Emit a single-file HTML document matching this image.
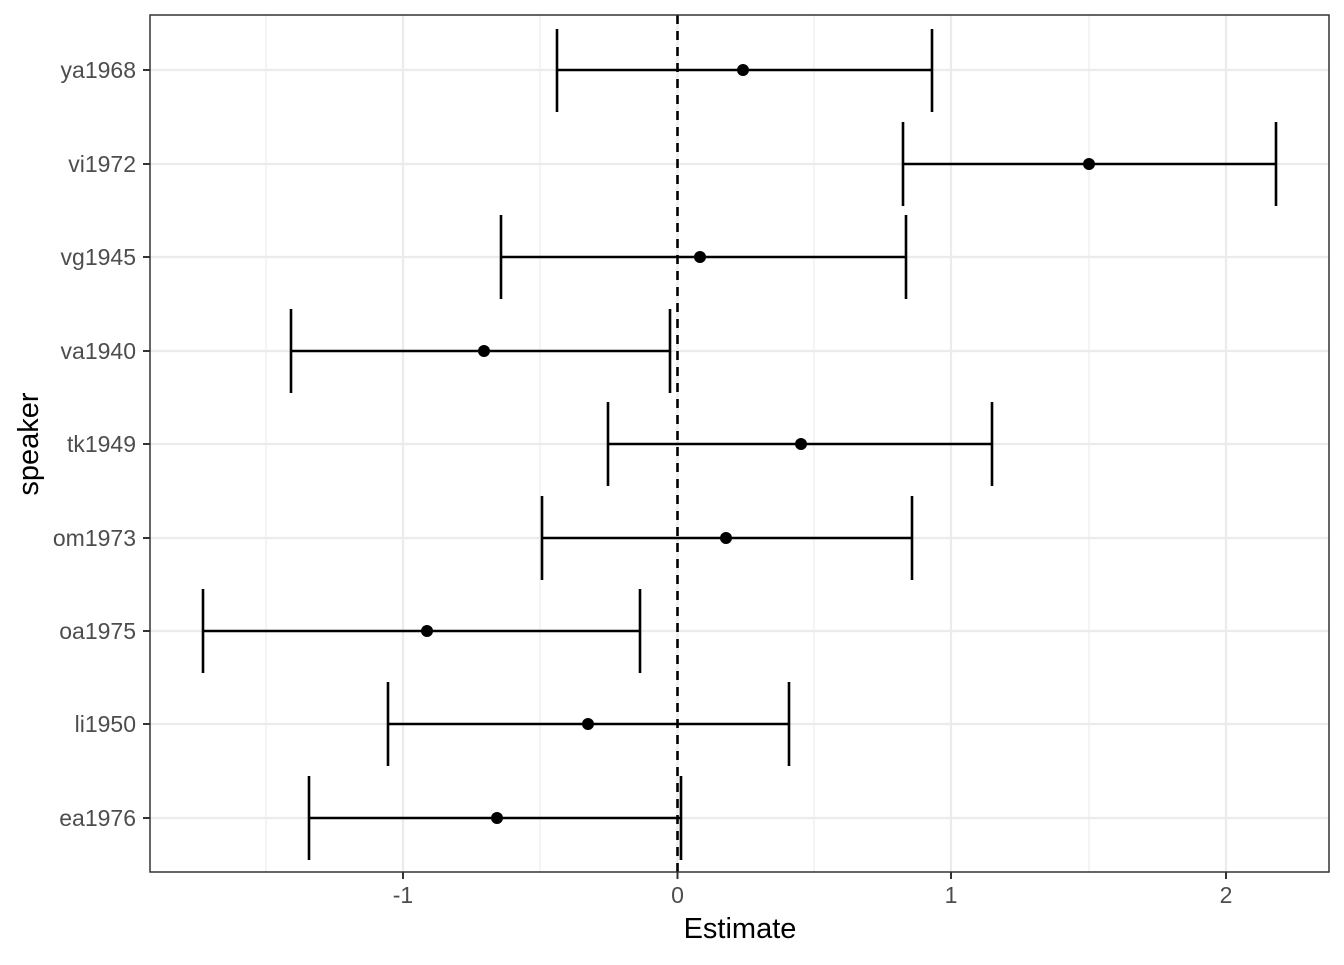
<!DOCTYPE html>
<html><head><meta charset="utf-8"><style>body{margin:0;background:#fff}</style></head><body>
<svg width="1344" height="960" xmlns="http://www.w3.org/2000/svg" font-family="Liberation Sans, sans-serif">
<rect width="1344" height="960" fill="#fff"/>
<g stroke="#ebebeb" stroke-width="1.1">
<line x1="266" y1="15" x2="266" y2="872"/><line x1="540" y1="15" x2="540" y2="872"/><line x1="814" y1="15" x2="814" y2="872"/><line x1="1089" y1="15" x2="1089" y2="872"/>
</g>
<g stroke="#ebebeb" stroke-width="2.2">
<line x1="403" y1="15" x2="403" y2="872"/><line x1="677.5" y1="15" x2="677.5" y2="872"/><line x1="951" y1="15" x2="951" y2="872"/><line x1="1226" y1="15" x2="1226" y2="872"/>
<line x1="150" y1="70" x2="1329" y2="70"/><line x1="150" y1="164" x2="1329" y2="164"/><line x1="150" y1="257" x2="1329" y2="257"/><line x1="150" y1="351" x2="1329" y2="351"/><line x1="150" y1="444" x2="1329" y2="444"/><line x1="150" y1="538" x2="1329" y2="538"/><line x1="150" y1="631" x2="1329" y2="631"/><line x1="150" y1="724" x2="1329" y2="724"/><line x1="150" y1="818" x2="1329" y2="818"/>
</g>
<g stroke="#000" stroke-width="2.6" fill="none">
<path d="M557 29V112M932 29V112M557 70H932"/>
<path d="M903 122V206M1276 122V206M903 164H1276"/>
<path d="M501 215V299M906 215V299M501 257H906"/>
<path d="M291 309V393M670 309V393M291 351H670"/>
<path d="M608 402V486M992 402V486M608 444H992"/>
<path d="M542 496V580M912 496V580M542 538H912"/>
<path d="M203 589V673M640 589V673M203 631H640"/>
<path d="M388 682V766M789 682V766M388 724H789"/>
<path d="M309 776V860M681 776V860M309 818H681"/>
</g>
<g fill="#000">
<circle cx="743" cy="70" r="6"/><circle cx="1089" cy="164" r="6"/><circle cx="700" cy="257" r="6"/><circle cx="484" cy="351" r="6"/><circle cx="801" cy="444" r="6"/><circle cx="726" cy="538" r="6"/><circle cx="427" cy="631" r="6"/><circle cx="588" cy="724" r="6"/><circle cx="497" cy="818" r="6"/>
</g>
<line x1="677.5" y1="15" x2="677.5" y2="872" stroke="#000" stroke-width="2.6" stroke-dasharray="9,7"/>
<rect x="150" y="15" width="1179" height="857" fill="none" stroke="#333" stroke-width="1.5"/>
<g stroke="#333" stroke-width="2">
<line x1="143" y1="70" x2="150" y2="70"/><line x1="143" y1="164" x2="150" y2="164"/><line x1="143" y1="257" x2="150" y2="257"/><line x1="143" y1="351" x2="150" y2="351"/><line x1="143" y1="444" x2="150" y2="444"/><line x1="143" y1="538" x2="150" y2="538"/><line x1="143" y1="631" x2="150" y2="631"/><line x1="143" y1="724" x2="150" y2="724"/><line x1="143" y1="818" x2="150" y2="818"/>
<line x1="403" y1="872" x2="403" y2="879"/><line x1="677.5" y1="872" x2="677.5" y2="879"/><line x1="951" y1="872" x2="951" y2="879"/><line x1="1226" y1="872" x2="1226" y2="879"/>
</g>
<g font-size="23" fill="#4d4d4d" text-anchor="end">
<text x="136" y="78">ya1968</text><text x="136" y="172">vi1972</text><text x="136" y="265">vg1945</text><text x="136" y="359">va1940</text><text x="136" y="452">tk1949</text><text x="136" y="546">om1973</text><text x="136" y="639">oa1975</text><text x="136" y="732">li1950</text><text x="136" y="826">ea1976</text>
</g>
<g font-size="23" fill="#4d4d4d" text-anchor="middle">
<text x="403" y="903">-1</text><text x="677.5" y="903">0</text><text x="951" y="903">1</text><text x="1226" y="903">2</text>
</g>
<text x="740" y="938" font-size="29" text-anchor="middle" fill="#000">Estimate</text>
<text transform="translate(38,444) rotate(-90)" font-size="29" text-anchor="middle" fill="#000">speaker</text>
</svg>
</body></html>
